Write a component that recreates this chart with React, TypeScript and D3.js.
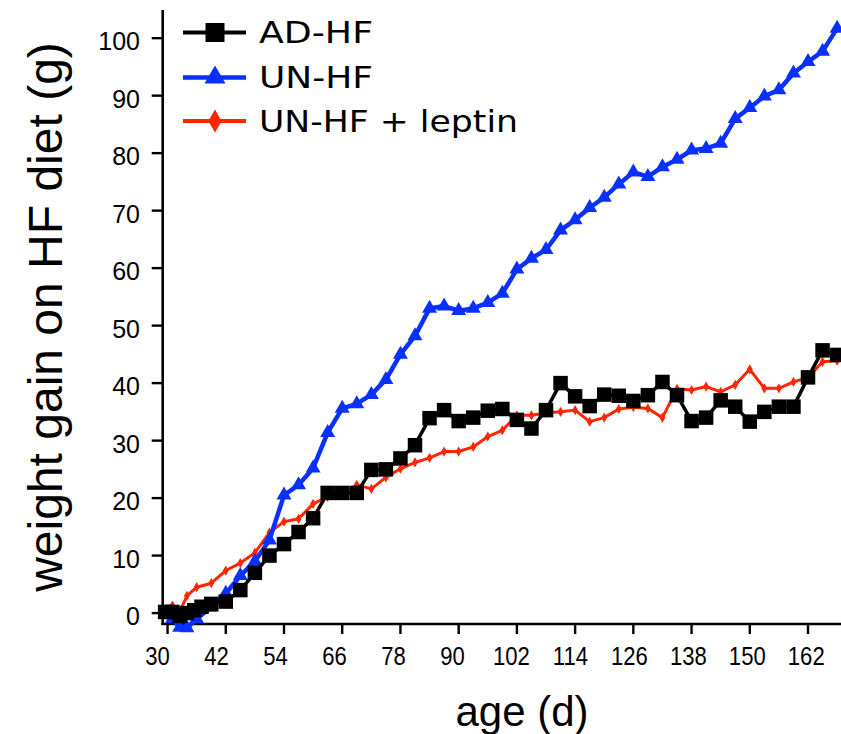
import React from "react";
import * as d3 from "d3";

// Age in days and weight gain (g) for each group on the high-fat diet
const adDays = [29.5, 31, 32.5, 34, 35.5, 37, 39, 42, 45, 48, 51, 54, 57, 60, 63, 66, 69, 72, 75, 78, 81, 84, 87, 90, 93, 96, 99, 102, 105, 108, 111, 114, 117, 120, 123, 126, 129, 132, 135, 138, 141, 144, 147, 150, 153, 156, 159, 162, 165, 168];
const adGain = [0.2, 0.2, -0.5, 0, 0.5, 1.1, 1.6, 2, 4, 7, 10, 12, 14.1, 16.5, 20.9, 20.9, 20.9, 24.9, 25, 26.9, 29.2, 33.9, 35.3, 33.4, 34, 35.2, 35.5, 33.6, 32.1, 35.3, 40, 37.7, 36, 38, 37.8, 36.9, 37.9, 40.2, 37.9, 33.4, 34, 37, 35.9, 33.3, 35, 35.9, 35.9, 41, 45.7, 44.9];

const unDays = [29.5, 31, 32.5, 34, 36, 39, 42, 45, 48, 51, 54, 57, 60, 63, 66, 69, 72, 75, 78, 81, 84, 87, 90, 93, 96, 99, 102, 105, 108, 111, 114, 117, 120, 123, 126, 129, 132, 135, 138, 141, 144, 147, 150, 153, 156, 159, 162, 165, 168];
const unGain = [0, -1, -2.5, -2.6, -1, 1, 3.4, 6.5, 9, 12.7, 20.5, 22.3, 25.2, 31.4, 35.6, 36.4, 38, 40.6, 45, 48.2, 53, 53.4, 52.6, 53, 54, 55.6, 59.8, 61.7, 63.2, 66.6, 68.4, 70.5, 72.3, 74.6, 76.7, 75.9, 77.6, 78.9, 80.5, 80.8, 81.7, 86, 87.9, 89.9, 91, 93.9, 95.9, 97.7, 101.7];

const leptinDays = [29.5, 31, 32.5, 34, 36, 39, 42, 45, 48, 51, 54, 57, 60, 63, 66, 69, 72, 75, 78, 81, 84, 87, 90, 93, 96, 99, 102, 105, 108, 111, 114, 117, 120, 123, 126, 129, 132, 135, 138, 141, 144, 147, 150, 153, 156, 159, 162, 165, 168];
const leptinGain = [0, 1.3, 0.2, 3, 4.5, 5.2, 7.4, 8.7, 10.5, 14, 15.9, 16.4, 19, 20.2, 20.8, 22.3, 21.6, 23.6, 25.1, 26.2, 27, 28.1, 28.1, 28.9, 30.7, 31.8, 34.4, 34.4, 34.8, 35, 35.3, 33.3, 34, 35.5, 35.8, 35.6, 34, 39, 38.8, 39.4, 38.5, 39.7, 42.4, 39.1, 39.1, 40.2, 41, 43.7, 43.9];

const xTicks = [30, 42, 54, 66, 78, 90, 102, 114, 126, 138, 150, 162];
const yTicks = [0, 10, 20, 30, 40, 50, 60, 70, 80, 90, 100];
const legendLabels = ["AD-HF", "UN-HF", "UN-HF + leptin"];

const BLACK = "#000000";
const BLUE = "#0a30ff";
const RED = "#ff2600";

const W = 841;
const H = 734;

const x = d3.scaleLinear().domain([29, 168.8]).range([162.7, 841]);
const y = d3.scaleLinear().domain([-1.9, 104.9]).range([624, 10]);

type Pt = [number, number];
const zip = (a: number[], b: number[]): Pt[] => a.map((d, i) => [d, b[i]]);

const line = d3
  .line<Pt>()
  .x((d) => x(d[0]))
  .y((d) => y(d[1]));

const sq = d3.symbol().type(d3.symbolSquare);
const tri = d3.symbol().type(d3.symbolTriangle);
const dia = d3.symbol().type(d3.symbolDiamond);

// area for a square of side s
const sqArea = (s: number) => s * s;
// area for an equilateral triangle of side s
const triArea = (s: number) => (Math.sqrt(3) / 4) * s * s;

export default function App() {
  const ad = zip(adDays, adGain);
  const un = zip(unDays, unGain);
  const lep = zip(leptinDays, leptinGain);

  const mainFont = "'Liberation Sans', Arial, Helvetica, sans-serif";
  const legendFont = "'DejaVu Sans', sans-serif";

  const legendRows = [
    { label: legendLabels[0], color: BLACK, path: sq.size(sqArea(19))() as string, width: 4, yPos: 32.5, len: 114 },
    { label: legendLabels[1], color: BLUE, path: tri.size(triArea(21))() as string, width: 4.5, yPos: 77.5, len: 114 },
    { label: legendLabels[2], color: RED, path: dia.size(150)() as string, width: 4, yPos: 121, len: 259 },
  ];

  return (
    <svg
      width={W}
      height={H}
      viewBox={`0 0 ${W} ${H}`}
      style={{ position: "absolute", left: 0, top: 0, background: "#fff" }}
    >
      <rect x={0} y={0} width={W} height={H} fill="#fff" />

      {/* axes */}
      <line x1={x.range()[0]} x2={x.range()[0]} y1={10} y2={625} stroke="#000" strokeWidth={2.6} />
      <line x1={x.range()[0] - 1.3} x2={W} y1={624} y2={624} stroke="#000" strokeWidth={2.6} />
      {yTicks.map((t) => (
        <g key={"y" + t}>
          <line x1={x.range()[0] - 11} x2={x.range()[0]} y1={y(t)} y2={y(t)} stroke="#000" strokeWidth={2.4} />
          <text
            x={140}
            y={y(t) + 3}
            dy="0.36em"
            textAnchor="end"
            fontFamily={mainFont}
            fontSize={25}
            fill="#000"
          >
            {t}
          </text>
        </g>
      ))}
      {xTicks.map((t, i) => (
        <g key={"x" + t}>
          <line x1={x(t)} x2={x(t)} y1={624} y2={634} stroke="#000" strokeWidth={2.4} />
          <text
            transform={`translate(${x(t) - 10 + i * 0.75},665) scale(0.85,1)`}
            textAnchor="middle"
            fontFamily={mainFont}
            fontSize={26}
            fill="#000"
          >
            {t}
          </text>
        </g>
      ))}

      {/* axis titles */}
      <text
        x={522}
        y={726}
        textAnchor="middle"
        fontFamily={mainFont}
        fontSize={42}
        fill="#000"
      >
        age (d)
      </text>
      <text
        transform={`translate(62, 317) rotate(-90)`}
        textAnchor="middle"
        fontFamily={mainFont}
        fontSize={48}
        fill="#000"
      >
        weight gain on HF diet (g)
      </text>

      {/* series: leptin-treated first, then UN-HF, AD-HF on top */}
      <path d={line(lep) as string} fill="none" stroke={RED} strokeWidth={3} strokeLinejoin="round" />
      {lep.map((p, i) => (
        <path key={"r" + i} d={dia.size(30)() as string} transform={`translate(${x(p[0])},${y(p[1])})`} fill={RED} />
      ))}

      <path d={line(un) as string} fill="none" stroke={BLUE} strokeWidth={4.5} strokeLinejoin="round" />
      {un.map((p, i) => (
        <path
          key={"b" + i}
          d={tri.size(triArea(15))() as string}
          transform={`translate(${x(p[0])},${y(p[1])})`}
          fill={BLUE}
        />
      ))}

      <path d={line(ad) as string} fill="none" stroke={BLACK} strokeWidth={3.5} strokeLinejoin="round" />
      {ad.map((p, i) => (
        <path
          key={"k" + i}
          d={sq.size(sqArea(14.5))() as string}
          transform={`translate(${x(p[0])},${y(p[1])})`}
          fill={BLACK}
        />
      ))}

      {/* legend */}
      {legendRows.map((r) => (
        <g key={r.label}>
          <line x1={183} x2={246} y1={r.yPos} y2={r.yPos} stroke={r.color} strokeWidth={r.width} />
          <path d={r.path} transform={`translate(215,${r.yPos})`} fill={r.color} />
          <text
            x={259}
            y={r.yPos}
            dy="0.36em"
            fontFamily={legendFont}
            fontSize={30}
            textLength={r.len}
            lengthAdjust="spacingAndGlyphs"
            fill="#000"
          >
            {r.label}
          </text>
        </g>
      ))}
    </svg>
  );
}
